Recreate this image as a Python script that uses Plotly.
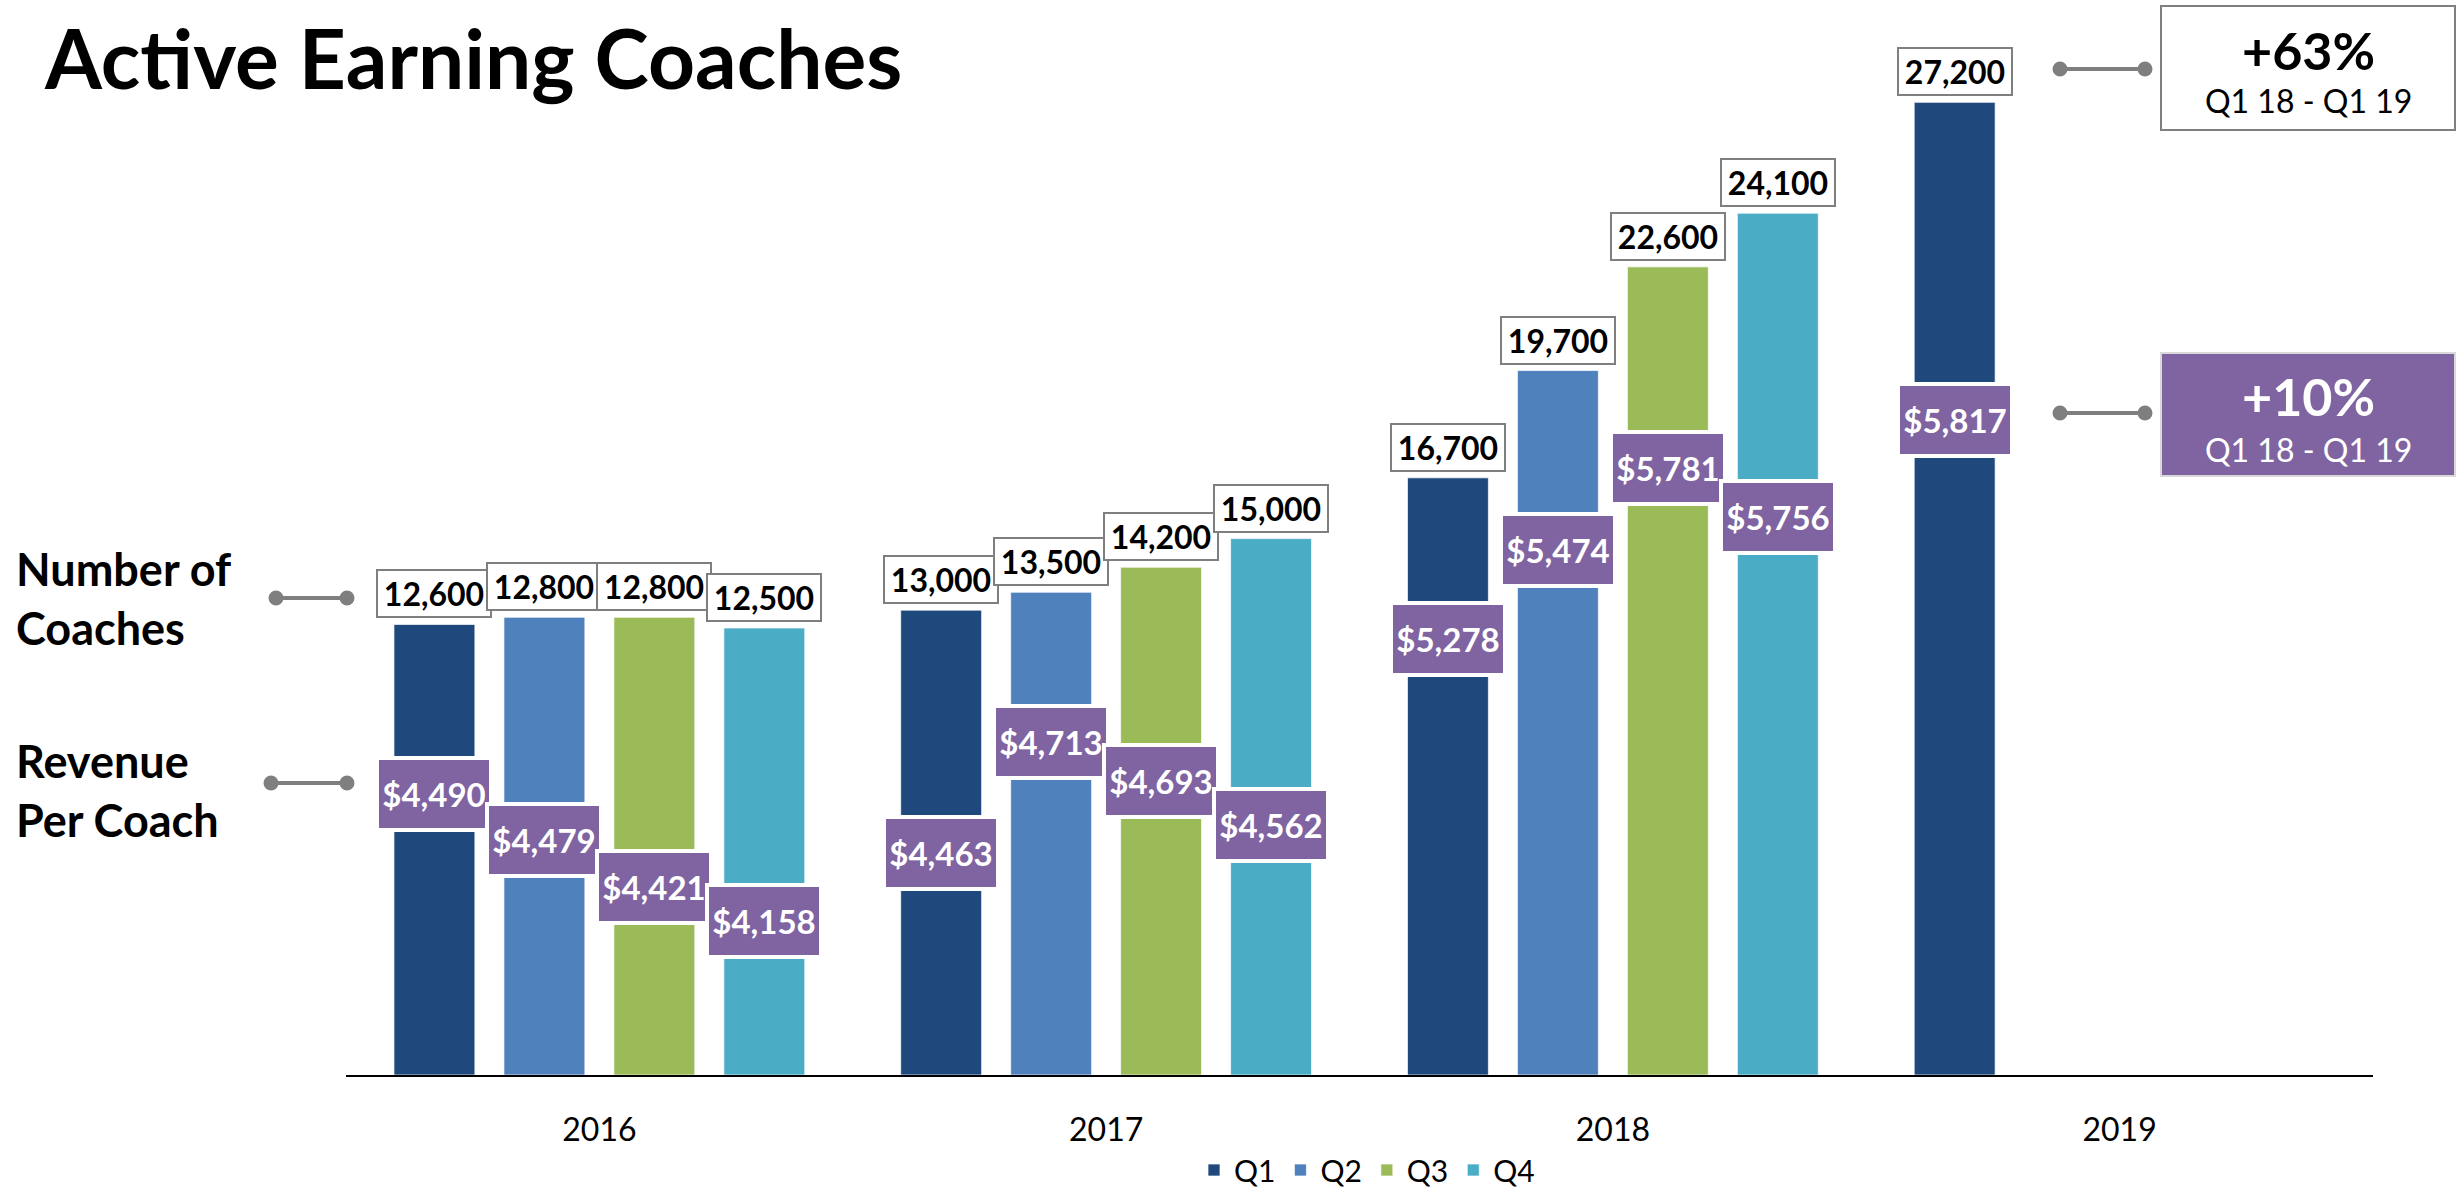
import plotly.graph_objects as go

# ---------------- data ----------------
years = ["2016", "2017", "2018", "2019"]
quarters = ["Q1", "Q2", "Q3", "Q4"]

coaches_q1 = [12600, 13000, 16700, 27200]
coaches_q2 = [12800, 13500, 19700]
coaches_q3 = [12800, 14200, 22600]
coaches_q4 = [12500, 15000, 24100]

rpc_q1 = [4490, 4463, 5278, 5817]
rpc_q2 = [4479, 4713, 5474]
rpc_q3 = [4421, 4693, 5781]
rpc_q4 = [4158, 4562, 5756]

# vertical placement of the revenue-per-coach boxes (in coach-count axis units)
rpc_label_y_q1 = [7870, 6210, 12200, 18330]
rpc_label_y_q2 = [6575, 9320, 14690]
rpc_label_y_q3 = [5260, 8230, 16980]
rpc_label_y_q4 = [4310, 6995, 15610]

coaches_growth = "+63%"
rpc_growth = "+10%"
growth_period = "Q1 18 - Q1 19"

# ---------------- style ----------------
colors = ["#1F497D", "#4F81BD", "#9BBB59", "#4BACC6"]
purple = "#8064A2"
gray = "#7F7F7F"
FONT = "Lato"

W, H = 2464, 1195
PL, PR, PT, PB = 346, 2373, 38, 1075
YMAX = 29000
BARGAP = 0.132
BARGROUPGAP = 0.264


def px(x):
    return (x - PL) / (PR - PL)


def py(y):
    return (PB - y) / (PB - PT)


coaches = [coaches_q1, coaches_q2, coaches_q3, coaches_q4]
rpcs = [rpc_q1, rpc_q2, rpc_q3, rpc_q4]
rpc_ys = [rpc_label_y_q1, rpc_label_y_q2, rpc_label_y_q3, rpc_label_y_q4]

fig = go.Figure()
for qi, q in enumerate(quarters):
    vals = coaches[qi]
    fig.add_trace(go.Bar(
        name=q, x=years[:len(vals)], y=vals,
        marker=dict(color=colors[qi], line=dict(color="rgba(255,255,255,0.7)", width=1)),
        hoverinfo="skip",
    ))

slot = (1 - BARGAP) / len(quarters)
annotations = []
for qi in range(len(quarters)):
    off = (qi - (len(quarters) - 1) / 2) * slot
    for yi, v in enumerate(coaches[qi]):
        xc = yi + off
        annotations.append(dict(
            x=xc, y=v, xref="x", yref="y", text=f"<b>{v:,}</b>",
            showarrow=False, yanchor="bottom", xanchor="center", yshift=6,
            width=112, height=45, borderpad=0,
            bgcolor="white", bordercolor=gray, borderwidth=2,
            font=dict(family=FONT, size=32, color="black"),
        ))
    for yi, r in enumerate(rpcs[qi]):
        xc = yi + off
        annotations.append(dict(
            x=xc, y=rpc_ys[qi][yi], xref="x", yref="y", text=f"<b>${r:,}</b>",
            showarrow=False, yanchor="middle", xanchor="center",
            width=110, height=68, borderpad=0,
            bgcolor=purple, bordercolor="white", borderwidth=4,
            font=dict(family=FONT, size=33, color="white"),
        ))

# title
annotations.append(dict(
    x=px(42), y=py(6), xref="paper", yref="paper", xanchor="left", yanchor="top",
    text="<b>Active Earning Coaches</b>", showarrow=False,
    font=dict(family=FONT, size=82, color="black"),
))
# left labels
annotations.append(dict(
    x=px(14), y=py(598), xref="paper", yref="paper", xanchor="left", yanchor="middle",
    text="<b>Number of<br>Coaches</b>", showarrow=False, align="left",
    font=dict(family=FONT, size=45, color="black"),
))
annotations.append(dict(
    x=px(14), y=py(790), xref="paper", yref="paper", xanchor="left", yanchor="middle",
    text="<b>Revenue<br>Per Coach</b>", showarrow=False, align="left",
    font=dict(family=FONT, size=45, color="black"),
))
# right growth boxes text
annotations += [
    dict(x=px(2308), y=py(50), xref="paper", yref="paper", text=f"<b>{coaches_growth}</b>",
         xanchor="center", yanchor="middle",
         showarrow=False, font=dict(family=FONT, size=52, color="black")),
    dict(x=px(2308), y=py(101), xref="paper", yref="paper", text=growth_period,
         xanchor="center", yanchor="middle",
         showarrow=False, font=dict(family=FONT, size=32, color="black")),
    dict(x=px(2308), y=py(396), xref="paper", yref="paper", text=f"<b>{rpc_growth}</b>",
         xanchor="center", yanchor="middle",
         showarrow=False, font=dict(family=FONT, size=52, color="white")),
    dict(x=px(2308), y=py(449), xref="paper", yref="paper", text=growth_period,
         xanchor="center", yanchor="middle",
         showarrow=False, font=dict(family=FONT, size=32, color="white")),
]

shapes = [
    dict(type="rect", xref="paper", yref="paper", x0=px(2161), x1=px(2455), y0=py(6), y1=py(130),
         fillcolor="white", line=dict(color=gray, width=2), layer="below"),
    dict(type="rect", xref="paper", yref="paper", x0=px(2161), x1=px(2455), y0=py(353), y1=py(476),
         fillcolor=purple, line=dict(color="#D9D9D9", width=2), layer="below"),
]


def connector(x0, x1, y):
    r = 7.5
    out = [dict(type="line", xref="paper", yref="paper", x0=px(x0), x1=px(x1), y0=py(y), y1=py(y),
                line=dict(color=gray, width=4))]
    for xc in (x0, x1):
        out.append(dict(type="circle", xref="paper", yref="paper",
                        x0=px(xc - r), x1=px(xc + r), y0=py(y + r), y1=py(y - r),
                        fillcolor=gray, line=dict(color=gray, width=0)))
    return out


shapes += connector(276, 347, 598)
shapes += connector(271, 347, 783)
shapes += connector(2060, 2145, 69)
shapes += connector(2060, 2145, 413)

fig.update_layout(
    width=W, height=H,
    margin=dict(l=PL, r=W - PR, t=PT, b=H - PB, autoexpand=False),
    paper_bgcolor="white", plot_bgcolor="white",
    barmode="group", bargap=BARGAP, bargroupgap=BARGROUPGAP,
    font=dict(family=FONT, color="black"),
    xaxis=dict(type="category", categoryorder="array", categoryarray=years,
               showline=True, linecolor="black", linewidth=2, showgrid=False,
               ticks="", ticklabelstandoff=26, tickfont=dict(family=FONT, size=32, color="black"),
               range=[-0.5, 3.5], fixedrange=True),
    yaxis=dict(visible=False, range=[0, YMAX], showgrid=False, zeroline=False),
    legend=dict(orientation="h", x=px(1367), xanchor="center", y=py(1170), yanchor="middle",
                font=dict(family=FONT, size=30, color="black"), traceorder="normal",
                itemwidth=30),
    annotations=annotations,
    shapes=shapes,
    showlegend=True,
)

fig.write_html("out.html", config={"displayModeBar": False},
               post_script="document.body.style.margin='0';")
